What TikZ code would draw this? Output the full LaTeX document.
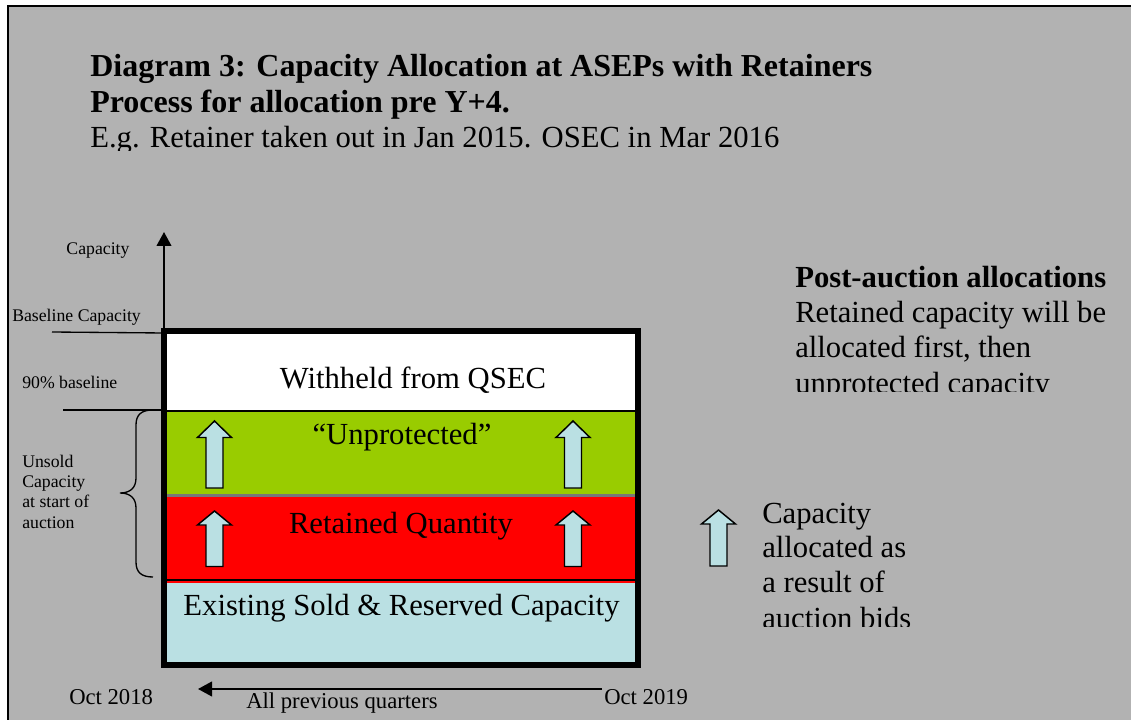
\documentclass[tikz,border=0pt]{standalone}
\usepackage{fontspec}
\setmainfont{Liberation Serif}
\usetikzlibrary{arrows.meta}
\definecolor{bg}{RGB}{178,178,178}
\definecolor{lgreen}{RGB}{153,204,0}
\definecolor{lblue}{RGB}{186,224,227}
\definecolor{sepgray}{RGB}{120,120,120}
\tikzset{
 txt/.style={inner sep=0pt, anchor=base west},
 ttl/.style={txt, font=\fontsize{24}{28}\selectfont\bfseries},
 big/.style={txt, font=\fontsize{23}{26}\selectfont},
 bigb/.style={txt, font=\fontsize{23}{26}\selectfont\bfseries},
 bigc/.style={inner sep=0pt, anchor=base, font=\fontsize{23}{26}\selectfont},
 small/.style={txt, font=\fontsize{13.3}{15}\selectfont},
 mid/.style={txt, font=\fontsize{17}{20}\selectfont},
 blk/.style={fill=lblue, draw=black, line width=1.1pt, line join=miter},
 axis/.style={line width=1.5pt, -{Triangle[width=11pt,length=10.5pt]}},
 thin/.style={line width=1pt},
}
\newcommand\bidarrow[4]{% x, tip, headbase, bottom
 \draw[blk] (#1-17,#3) -- (#1,#2) -- (#1+17,#3) -- (#1+8.5,#3) -- (#1+8.5,#4) -- (#1-8.5,#4) -- (#1-8.5,#3) -- cycle;}
\begin{document}
\begin{tikzpicture}[x=0.75pt,y=-0.75pt]
\useasboundingbox (0,0) rectangle (1131,720);
\fill[white] (0,0) rectangle (1131,720);
\draw[fill=bg, line width=1.5pt] (8,6) rectangle (1145,735);

% titles
\node[ttl] (t1) at (90,77) {Diagram 3: Capacity Allocation at ASEPs with Retainers};
\node[ttl] (t2) at (90,113) {Process for allocation pre Y+4.};
\begin{scope}
\clip (0,0) rectangle (1131,151);
\node[big] (t3) at (90,148) {E.g. Retainer taken out in Jan 2015. OSEC in Mar 2016};
\end{scope}

% layers
\fill[white] (164,331) rectangle (638,411);
\fill[lgreen] (164,411) rectangle (638,495);
\fill[red] (164,495) rectangle (638,583);
\fill[lblue] (164,583) rectangle (638,665);
\draw[line width=1pt] (164,411) -- (638,411);
\draw[sepgray, line width=1.6pt] (164,495.5) -- (638,495.5);
\draw[line width=1.3pt] (164,580) -- (638,580);
\draw[line width=4.5pt] (164,331) rectangle (638,665);

\node[bigc] (w) at (413,388) {Withheld from QSEC};
\node[bigc] (u) at (402,444) {“Unprotected”};
\node[bigc] (r) at (401,533) {Retained Quantity};
\node[bigc] (e) at (401.5,615) {Existing Sold \& Reserved Capacity};

\bidarrow{214.5}{421}{437.5}{488}
\bidarrow{573}{421}{437.5}{488}
\bidarrow{214.5}{511}{525}{566.5}
\bidarrow{573}{511}{525}{566.5}

% vertical axis
\coordinate (o) at (164,333);
\coordinate (ytop) at (164,232);
\draw[axis] (o) -- (ytop);
\node[small, anchor=base] (cap) at (98,255) {Capacity};
\node[small] (bc) at (12,321) {Baseline Capacity};
\coordinate (bl) at (52,332);
\draw[thin] (bl) -- (o);
\node[small] (b90) at (22,388) {90\% baseline};
\coordinate (nl) at (63,410);
\coordinate (nr) at (164,410);
\draw[thin] (nl) -- (nr);

% brace
\draw[line width=1pt] (153,410) .. controls (141,410) and (136,415) .. (136,425) -- (136,478)
  .. controls (136,488) and (130,493) .. (120,493)
  .. controls (130,493) and (136,498) .. (136,508) -- (136,562)
  .. controls (136,572) and (141,577) .. (153,577);
\node[small] (us1) at (22,467) {Unsold};
\node[small] (us2) at (22,487) {Capacity};
\node[small] (us3) at (22,507) {at start of};
\node[small] (us4) at (22,528) {auction};

% horizontal axis
\node[mid] (o18) at (69,704) {Oct 2018};
\coordinate (hs) at (602,689);
\coordinate (he) at (198,689);
\draw[axis] (hs) -- (he);
\node[mid] (apq) at (246,708) {All previous quarters};
\node[mid] (o19) at (604,704) {Oct 2019};

% post-auction text
\node[bigb] (p1) at (795,287) {Post-auction allocations};
\node[big] (p2) at (795,322) {Retained capacity will be};
\node[big] (p3) at (795,357) {allocated first, then};
\begin{scope}
\clip (700,360) rectangle (1131,391.5);
\node[big] (p4) at (795,393) {unprotected capacity};
\end{scope}

% legend
\bidarrow{718.5}{510}{524}{566}
\node[big] (l1) at (762,523) {Capacity};
\node[big] (l2) at (762,557) {allocated as};
\node[big] (l3) at (762,592) {a result of};
\begin{scope}
\clip (700,600) rectangle (1131,626.5);
\node[big] (l4) at (762,628) {auction bids};
\end{scope}
\end{tikzpicture}
\end{document}
